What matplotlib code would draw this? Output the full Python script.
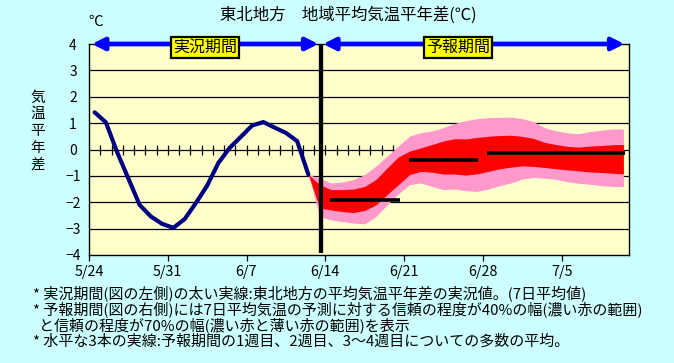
import numpy as np
import matplotlib.pyplot as plt

plt.rcParams['font.family'] = ['Noto Sans CJK JP', 'DejaVu Sans']

# 日付ラベル (5/24 からの日数)
date_days = [0, 7, 14, 21, 28, 35, 42]
date_labels = ['5/24', '5/31', '6/7', '6/14', '6/21', '6/28', '7/5']
y_ticks = [-4, -3, -2, -1, 0, 1, 2, 3, 4]

# 実況 (7日平均の平年差)
obs_x = np.arange(20) + 0.5
obs_vals = [1.41, 1.03, -0.10, -1.10, -2.10, -2.54, -2.82, -2.97, -2.64, -2.03,
            -1.37, -0.51, 0.06, 0.48, 0.91, 1.04, 0.83, 0.63, 0.32, -0.95]

# 予報の信頼幅 (70%: 薄い赤, 40%: 濃い赤)
fc_x = np.arange(19.5, 48, 1.0)
pink_hi = [-0.95, -1.08, -1.27, -1.23, -1.14, -0.95, -0.63, -0.25, 0.13, 0.51,
           0.64, 0.70, 0.83, 0.99, 1.09, 1.17, 1.21, 1.22, 1.23, 1.17,
           1.06, 0.83, 0.71, 0.63, 0.60, 0.68, 0.73, 0.78, 0.78]
red_hi = [-0.95, -1.33, -1.52, -1.52, -1.50, -1.40, -1.14, -0.70, -0.28, -0.06,
          0.06, 0.19, 0.32, 0.41, 0.40, 0.46, 0.50, 0.53, 0.54, 0.50,
          0.42, 0.27, 0.19, 0.12, 0.09, 0.13, 0.15, 0.18, 0.19]
red_lo = [-0.95, -2.22, -2.29, -2.35, -2.39, -2.31, -2.10, -1.71, -1.33, -0.95,
          -0.83, -0.86, -0.93, -0.93, -0.97, -0.92, -0.83, -0.73, -0.67, -0.62,
          -0.64, -0.68, -0.73, -0.77, -0.81, -0.85, -0.87, -0.90, -0.92]
pink_lo = [-0.95, -2.54, -2.67, -2.73, -2.79, -2.82, -2.54, -2.10, -1.68, -1.33,
           -1.27, -1.40, -1.52, -1.50, -1.56, -1.59, -1.50, -1.37, -1.27, -1.12,
           -1.06, -1.09, -1.13, -1.22, -1.28, -1.32, -1.37, -1.40, -1.41]

# 1週目, 2週目, 3~4週目 の平均
wk_start = [21.4, 28.4, 35.4]
wk_end = [27.6, 34.6, 47.6]
wk_vals = [-1.90, -0.38, -0.15]

split_day = 20.6

W, H = 674, 363


def fx(x):
    return x / W


def fy(y):
    return 1 - y / H


fig = plt.figure(figsize=(W / 100, H / 100), dpi=100, facecolor='#CCFFFF')
ax = fig.add_axes([fx(89), fy(255), 540 / W, 211 / H])
ax.set_facecolor('#FFFFCC')
ax.set_xlim(0, 48)
ax.set_ylim(-4, 4)

# 横線
for v in y_ticks[1:-1]:
    ax.axhline(v, color='black', lw=0.9, zorder=1)

# 0線上の日ごとの目盛り
tick_days = np.arange(1, 48)
ax.plot(tick_days, np.zeros(len(tick_days)), ls='none', marker='|', ms=7,
        mew=0.9, color='black', zorder=1)

# 信頼幅
ax.fill_between(fc_x, pink_lo, pink_hi, color='#FF99CC', lw=0, zorder=2)
ax.fill_between(fc_x, red_lo, red_hi, color='#FF0000', lw=0, zorder=3)

# 実況
ax.plot(obs_x, obs_vals, color='#000080', lw=3.0, zorder=4,
        solid_joinstyle='round', solid_capstyle='round')

# 週平均
for s, e, v in zip(wk_start, wk_end, wk_vals):
    ax.plot([s, e], [v, v], color='black', lw=2.6, zorder=5,
            solid_capstyle='butt')

# 実況/予報の境目
ax.plot([split_day, split_day], [-3.93, 4], color='black', lw=3.1, zorder=5,
        solid_capstyle='butt')

# 期間の矢印
arrow = dict(arrowstyle='<|-|>,head_length=0.6,head_width=0.3',
             mutation_scale=12, color='#0000FF', lw=3.4, shrinkA=0, shrinkB=0)
ax.annotate('', xy=(0.25, 4), xytext=(split_day - 0.2, 4),
            arrowprops=arrow, annotation_clip=False, zorder=6)
ax.annotate('', xy=(split_day + 0.2, 4), xytext=(47.6, 4),
            arrowprops=arrow, annotation_clip=False, zorder=6)

box = dict(boxstyle='square,pad=0.12', fc='#FFFF00', ec='black', lw=1.6)
ax.text(10.3, 3.88, '実況期間', ha='center', va='center', fontsize=11.5,
        bbox=box, zorder=7)
ax.text(32.8, 3.88, '予報期間', ha='center', va='center', fontsize=11.5,
        bbox=box, zorder=7)

# 軸
for sp in ax.spines.values():
    sp.set_color('black')
    sp.set_linewidth(1.0)
ax.set_xticks(date_days)
ax.set_xticklabels(date_labels, fontsize=10.3)
ax.tick_params(axis='x', direction='out', length=4.5, width=0.9, pad=3)
ax.set_yticks(y_ticks)
ax.set_yticklabels([str(v).replace('-', '\u2212') for v in y_ticks], fontsize=10)
ax.tick_params(axis='y', length=0, pad=11.5)
for lab in ax.get_yticklabels():
    lab.set_ha('center')

# 文字
fig.text(fx(348), fy(15), '東北地方　地域平均気温平年差(℃)', ha='center',
         va='center', fontsize=11.8)
fig.text(fx(96), fy(22), '℃', ha='center', va='center', fontsize=10.5)
fig.text(fx(38), fy(131), '気\n温\n平\n年\n差', ha='center', va='center',
         fontsize=10.5, linespacing=1.25)

notes = [
    (33, 293, '* 実況期間(図の左側)の太い実線:東北地方の平均気温平年差の実況値。(7日平均値)'),
    (33, 309, '* 予報期間(図の右側)には7日平均気温の予測に対する信頼の程度が40%の幅(濃い赤の範囲)'),
    (39, 325, 'と信頼の程度が70%の幅(濃い赤と薄い赤の範囲)を表示'),
    (33, 341, '* 水平な3本の実線:予報期間の1週目、2週目、3〜4週目についての多数の平均。'),
]
for x, y, t in notes:
    fig.text(fx(x), fy(y), t, ha='left', va='center', fontsize=10.8)

fig.savefig('out.png', dpi=100, facecolor=fig.get_facecolor())
